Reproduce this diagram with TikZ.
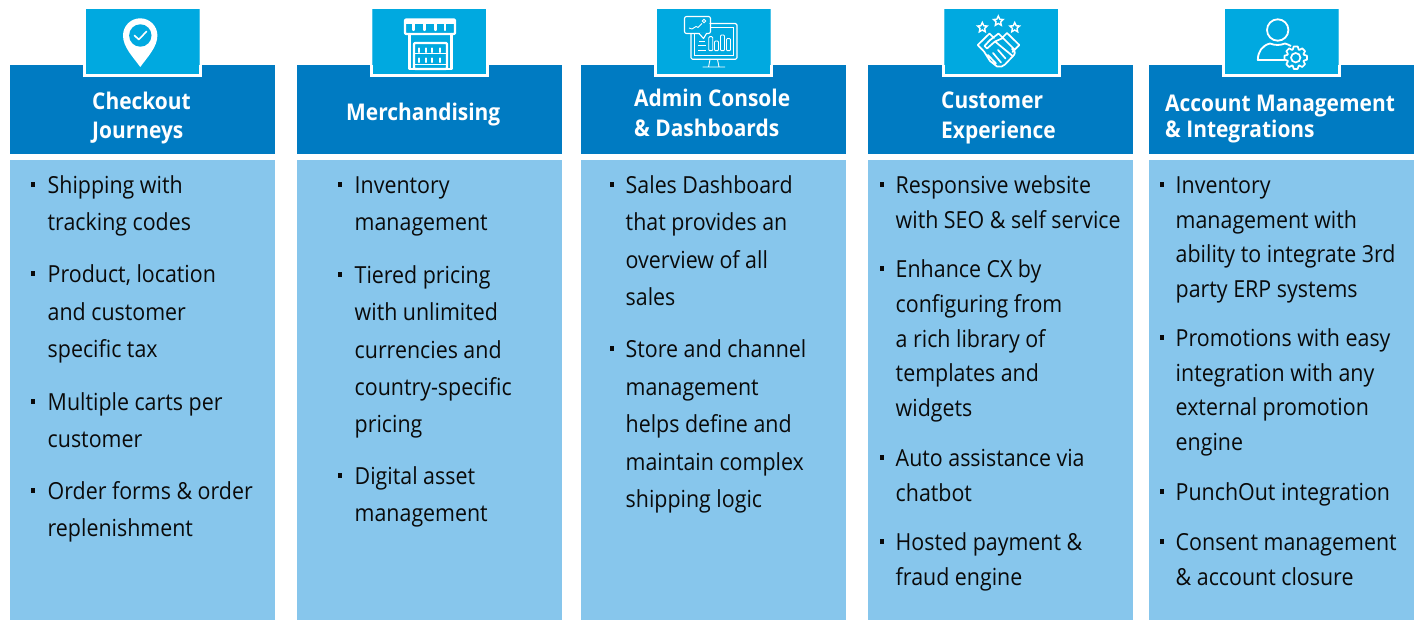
\documentclass[tikz,border=0pt]{standalone}
\usepackage{fontspec}
\setmainfont{Open Sans}[FakeStretch=0.91]
\definecolor{hdrblue}{RGB}{0,123,194}
\definecolor{iconblue}{RGB}{0,169,224}
\definecolor{bodyblue}{RGB}{135,198,236}
\definecolor{txt}{RGB}{10,10,10}
\newcommand{\Col}[1]{%
  \fill[bodyblue] (#1,160) rectangle ++(265,460);
  \fill[hdrblue] (#1,65) rectangle ++(265,89);
}
\newcommand{\IconBox}[1]{%
  \fill[iconblue!70!white] (#1,9) rectangle ++(114,66);
  \fill[white] (#1-2.5,65) rectangle ++(119,12);
  \fill[iconblue] (#1+0.5,9.5) rectangle ++(113,65);
}
\newcommand{\Item}[6]{% name, bullet x, text x, y, skip, lines
  \fill[txt] (#2-1,#4-12) rectangle ++(4.2,5);
  \node[bodytext,anchor=base west] (#1) at (#3-0.5,#4-0.5) {\parbox[t]{255pt}{\setlength{\baselineskip}{#5pt}#6}};
}
\newcommand{\Head}[4]{% name,x,y,text
  \node[headtext,anchor=base west] (#1) at (#2,#3) {#4};
}
\tikzset{
  bodytext/.style={inner sep=0pt,font=\fontsize{23.5pt}{28pt}\selectfont,text=txt},
  headtext/.style={inner sep=0pt,font=\fontsize{23pt}{28pt}\selectfont\bfseries,text=white},
  icon/.style={draw=white,line width=1.1pt,line join=round,line cap=round},
  iconb/.style={draw=white,line width=2.2pt,line join=round,line cap=round},
}
\begin{document}
\begin{tikzpicture}[x=1pt,y=-1pt]
\useasboundingbox (0,0) rectangle (1423,620);
\fill[white] (0,0) rectangle (1423,620);
\Col{10}\Col{297}\Col{581}\Col{868}\Col{1149}
\IconBox{85.5}\IconBox{372.3}\IconBox{656.7}\IconBox{944}\IconBox{1224.7}

% pin icon
\fill[white] (140.3,67) .. controls (133,57) and (123,47) .. (123,35.5)
  arc[start angle=180,end angle=360,radius=17.2] .. controls (157.4,47) and (147.5,57) .. cycle;
\fill[iconblue] (140.3,35.5) circle (11.2);
\draw[white,line width=1.6pt,line cap=round,line join=round] (134.5,35.5) -- (138.8,39.5) -- (146.5,31.5);

% store icon
\draw[iconb,rounded corners=1pt] (405,19.5) rectangle (455,34);
\fill[white] (405,19.5) rectangle (455,24.5);
\foreach \x in {413.5,424.3,435.3,444.7}{\draw[white,line width=2.4pt,line cap=round] (\x,24) -- (\x,30);}
\draw[iconb] (409.5,34) -- (409.5,69) -- (451.5,69) -- (451.5,34);
\draw[iconb,rounded corners=1pt] (414,43) rectangle (447,69);
\draw[white,line width=1.6pt] (414,53.5) -- (447,53.5) (414,64.5) -- (447,64.5);
\foreach \x in {419.3,425.6,432.3,440}{
  \draw[white,line width=2.2pt,line cap=round] (\x,48.5) -- (\x,52) (\x,58.5) -- (\x,62);}

% dashboard icon
\draw[icon,rounded corners=1.5pt] (710,23.5) -- (737,23.5) -- (737,59.3) -- (691,59.3) -- (691,34);
\draw[white,line width=0.7pt] (711,27) -- (733.5,27) -- (733.5,55) -- (694,55) -- (694,34);
\draw[icon,rounded corners=2pt] (684.5,16.5) rectangle (710.5,33.5);
\fill[iconblue] (699,32.5) -- (703.5,38.5) -- (706.5,32.5) -- cycle;
\draw[icon] (699,33.5) -- (703.5,38.5) -- (706.5,33.5);
\draw[white,line width=0.9pt,line join=round] (689,28) -- (692,29) -- (696,26.5) -- (698,27.5) -- (702,23.5);
\draw[white,line width=0.9pt] (704,21) circle (1.8);
\foreach \a/\b in {708.7/36.7,714.5/41,720.5/35,726.5/38.5}{\draw[white,line width=0.9pt,rounded corners=1pt] (\a,\b) rectangle (\a+4,50.7);}
\draw[white,line width=0.9pt] (699,41.7) -- (705,41.7) (698,45.7) -- (706,45.7) (698,50) -- (706,50);
\draw[white,line width=0.9pt] (710,59.5) -- (708.5,67) (717.5,59.5) -- (719,67) (702.5,67) -- (725,67);

% handshake icon
\foreach \cx/\cy in {982.3/27.5,998.3/21,1014.7/27.5}{
  \begin{scope}[shift={(\cx,\cy)}]
  \draw[white,line width=1.4pt,line join=miter] (0,-5) -- (1.5,-1.7) -- (4.8,-1.5) -- (2.3,.9) -- (3,4.3) -- (0,2.5) -- (-3,4.3) -- (-2.3,.9) -- (-4.8,-1.5) -- (-1.5,-1.7) -- cycle;
  \end{scope}}
\draw[white,line width=1.7pt,line join=round,line cap=round]
  (977.7,45) -- (989.5,33.5) -- (994,38) (984,51.5) -- (977.7,45)
  (1019.3,45) -- (1007,33) -- (1002.5,37.5) (1012.5,52) -- (1019.3,45)
  (989.5,40.5) -- (998.5,33.5) -- (1003,38) -- (1014,49)
  (989.5,40.5) -- (984.5,46) -- (987,48.5) -- (995,41.5) -- (1003,38)
  (984,51.5) -- (990,61) -- (997,66.5) .. controls (1000,67.5) and (1003,66.5) .. (1005,64.5) -- (1014,55) .. controls (1016,52) and (1014,50) .. (1012,49)
  (995,41.5) -- (1012,55.5) (1004,49) -- (1009,53)
  (993,53) -- (1001,62.5) (988,55) -- (996,63.5) (998,50) -- (1005.5,58.5);

% user icon
\draw[white,line width=1.8pt] (1277.7,30) circle (10.7);
\draw[white,line width=1.8pt,line join=round] (1287,60) -- (1257.8,60) .. controls (1257.8,52) and (1262,45.5) .. (1270,43.5) .. controls (1275,45.5) and (1280,45.5) .. (1285,43.5) .. controls (1287,44) and (1289,45) .. (1291,46);
\fill[iconblue] (1295.7,57.7) circle (11.5);
\begin{scope}[shift={(1295.7,57.7)}]
\draw[white,line width=1.7pt,line join=round] (-10:11.4)
  \foreach \a in {0,45,...,315}{ -- ({\a+10}:11.4) -- ({\a+20}:8.6) -- ({\a+25}:8.6) -- ({\a+35}:11.4)} -- cycle;
\draw[white,line width=1.7pt] (0,0) circle (4.7);
\end{scope}

% headers
\Head{h1a}{92}{110}{Checkout}\Head{h1b}{92}{139}{Journeys}
\Head{h2}{346}{121}{Merchandising}
\Head{h3a}{634}{107}{Admin Console}\Head{h3b}{634}{137}{\& Dashboards}
\Head{h4a}{941}{109}{Customer}\Head{h4b}{941}{139}{Experience}
\Head{h5a}{1165}{112}{Account Management}\Head{h5b}{1165}{138}{\& Integrations}

% column 1
\Item{a1}{32}{48}{194}{37}{Shipping with\\tracking codes}
\Item{a2}{32}{48}{283}{37.5}{Product, location\\and customer\\specific tax}
\Item{a3}{32}{48}{411}{37}{Multiple carts per\\customer}
\Item{a4}{32}{48}{500}{37}{Order forms \& order\\replenishment}
% column 2
\Item{b1}{339}{355}{194}{37}{Inventory\\management}
\Item{b2}{339}{355}{284}{37.3}{Tiered pricing\\with unlimited\\currencies and\\country-specific\\pricing}
\Item{b3}{339}{355}{485}{37}{Digital asset\\management}
% column 3
\Item{c1}{611}{626}{194}{37.3}{Sales Dashboard\\that provides an\\overview of all\\sales}
\Item{c2}{611}{626}{358}{37.5}{Store and channel\\management\\helps define and\\maintain complex\\shipping logic}
% column 4
\Item{d1}{881}{896}{194}{35}{Responsive website\\with SEO \& self service}
\Item{d2}{881}{896}{278}{34.8}{Enhance CX by\\configuring from\\a rich library of\\templates and\\widgets}
\Item{d3}{881}{896}{467}{34.5}{Auto assistance via\\chatbot}
\Item{d4}{881}{896}{551}{35}{Hosted payment \&\\fraud engine}
% column 5
\Item{e1}{1161}{1176}{194}{34.7}{Inventory\\management with\\ability to integrate 3rd\\party ERP systems}
\Item{e2}{1161}{1176}{347}{34.7}{Promotions with easy\\integration with any\\external promotion\\engine}
\Item{e3}{1161}{1176}{501}{35}{PunchOut integration}
\Item{e4}{1161}{1176}{551}{35}{Consent management\\\& account closure}
\end{tikzpicture}
\end{document}
